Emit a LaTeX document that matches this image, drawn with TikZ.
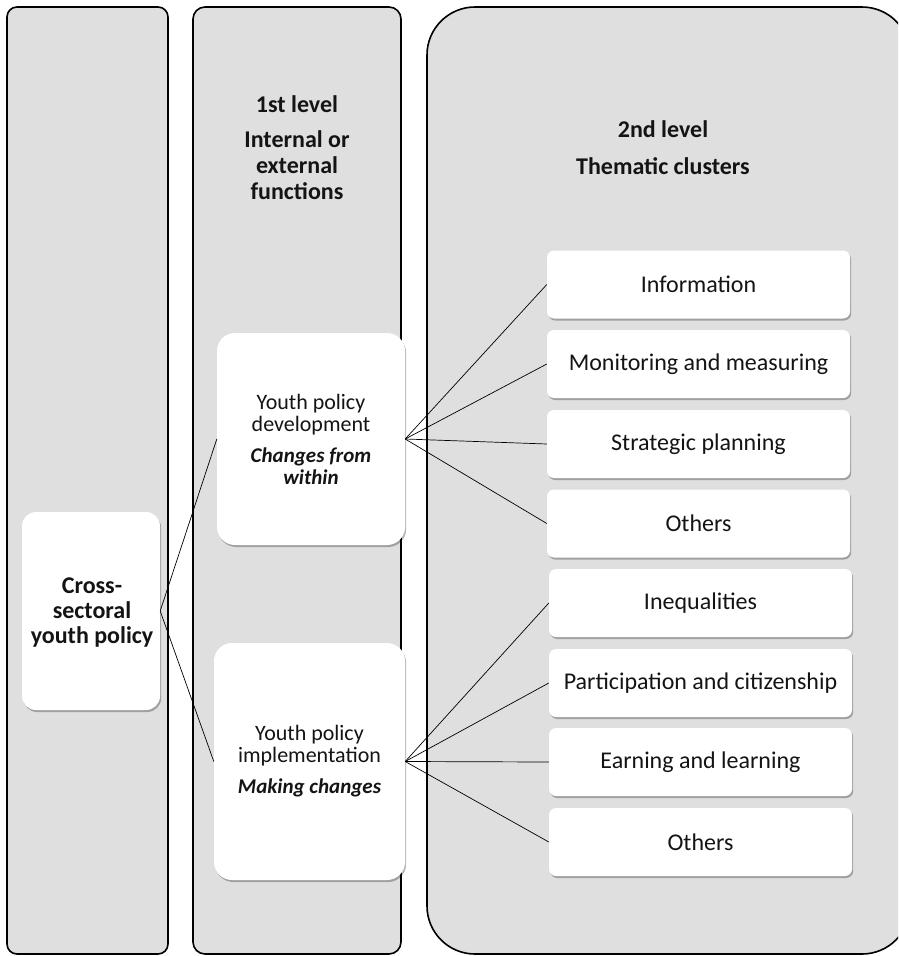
\documentclass[tikz,border=0pt]{standalone}
\usepackage{fontspec}
\setmainfont{Carlito}
\usetikzlibrary{shadows}
\definecolor{panelgray}{HTML}{DFDFDF}
\definecolor{inkdark}{HTML}{141414}
\begin{document}
\begin{tikzpicture}[x=1pt,y=-1pt,
  panel/.style={draw=black, line width=1.6pt, fill=panelgray},
  shade/.style={drop shadow={shadow xshift=1.2pt, shadow yshift=-2pt, fill=black, opacity=0.28}},
  card/.style={fill=white, rounded corners=18pt, shade, align=center, inner sep=0pt, text=inkdark},
  leaf/.style={fill=white, rounded corners=7pt, shade, minimum width=303pt, minimum height=68pt, inner sep=0pt, text=inkdark, font=\fontsize{24}{28}\selectfont},
  heading/.style={align=center, text=inkdark, font=\bfseries\fontsize{24}{26}\selectfont},
  link/.style={draw=black, line width=0.7pt}
]
\useasboundingbox (0,0) rectangle (898,956);
\clip (0,0) rectangle (898,956);

% background columns
\draw[panel, rounded corners=10pt] (7,7) rectangle (168,954);
\draw[panel, rounded corners=12pt] (193,7) rectangle (401,954);
\draw[panel, rounded corners=48pt] (427,7) rectangle (910,954);

% headings
\node[heading] (h1) at (297,148) {1st level\\[9pt]Internal or\\external\\functions};
\node[heading] (h2) at (663,148) {2nd level\\[11pt]Thematic clusters};

% main nodes
\node[card, rounded corners=14pt, minimum width=138pt, minimum height=198pt] (root) at (91,611) {};
\node[align=center, text=inkdark, font=\bfseries\fontsize{24}{25}\selectfont] (rootlabel) at (92,613)
  {Cross-\\sectoral\\youth policy};
\node[card, minimum width=188pt, minimum height=212pt, font=\fontsize{22}{22}\selectfont] (dev) at (311,439)
  {Youth policy\\development\\[9pt]\textbf{\textit{\fontsize{21}{23}\selectfont Changes from}}\\\textbf{\textit{\fontsize{21}{23}\selectfont within}}};
\node[card, minimum width=191pt, minimum height=237pt, font=\fontsize{22}{22}\selectfont] (impl) at (309.5,761.5)
  {Youth policy\\implementation\\[9pt]\textbf{\textit{\fontsize{21}{23}\selectfont Making changes}}};

% second level
\node[leaf] (info) at (698.5,284.5) {Information};
\node[leaf] (moni) at (698.5,364) {Monitoring and measuring};
\node[leaf] (strat) at (698.5,444) {Strategic planning};
\node[leaf] (oth1) at (698.5,523.5) {Others};
\node[leaf] (ineq) at (700.5,603) {Inequalities};
\node[leaf] (part) at (700.5,683) {Participation and citizenship};
\node[leaf] (earn) at (700.5,762) {Earning and learning};
\node[leaf] (oth2) at (700.5,842) {Others};

% connectors
\draw[link] (dev.west) -- (root.east) -- (impl.west);
\foreach \t in {info,moni,strat,oth1} \draw[link] (dev.east) -- (\t.west);
\foreach \t in {ineq,part,earn,oth2} \draw[link] (impl.east) -- (\t.west);
\end{tikzpicture}
\end{document}
